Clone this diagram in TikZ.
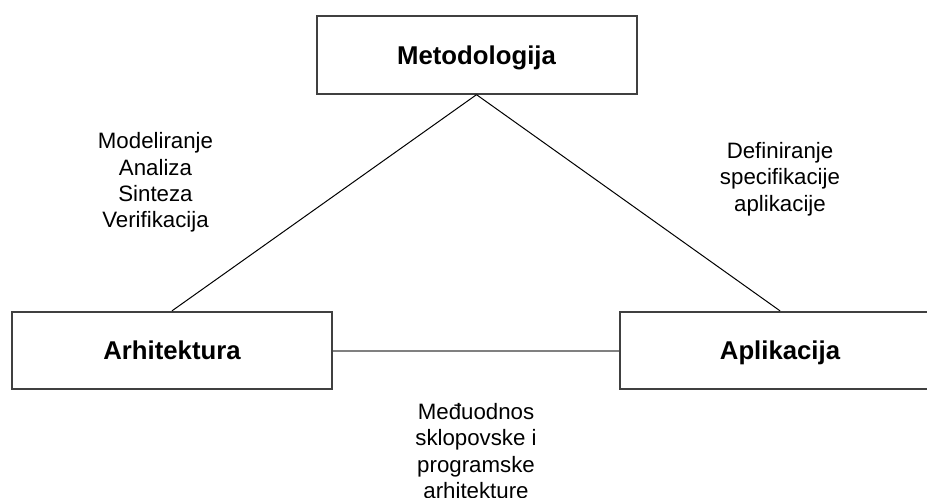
\documentclass[tikz,border=0pt]{standalone}
\usepackage{fontspec}
\setmainfont{Liberation Sans}
\usetikzlibrary{arrows}

\begin{document}
\begin{tikzpicture}[
		x=0.75pt, y=-0.75pt,
		box/.style={rectangle,draw=black!75,line width=1.5pt,fill=white,
		inner sep=0pt,minimum width=240pt,minimum height=58pt,
		text height=13.8pt,text depth=0pt,
		font=\fontsize{19.3}{23}\selectfont\bfseries},
		note/.style={align=center,inner sep=0pt,
		font=\fontsize{16.7}{19.8}\selectfont},
		link/.style={draw=black, line width=0.75pt},
		bond/.style={draw=black!50, line width=1.5pt}
		]
		\useasboundingbox (0,0) rectangle (927,497);
		\clip (0,0) rectangle (927,497);
		\node[box] (met) at (476.5,55) {Metodologija};
		\node[box] (arh) at (172,350.5) {Arhitektura};
		\node[box] (apl) at (780,350.5) {Aplikacija};
		\draw[link] (met.south) -- (arh.north);
		\draw[link] (met.south) -- (apl.north);
		\draw[bond] (arh.east) -- (apl.west);
		\node[note] (m) at (155.5,182.5) {Modeliranje\\Analiza\\Sinteza\\Verifikacija};
		\node[note] (d) at (780,179) {Definiranje\\specifikacije\\aplikacije};
		\node[note] (r) at (476,451) {Međuodnos\\sklopovske i\\programske\\arhitekture};
	\end{tikzpicture}
\end{document}
